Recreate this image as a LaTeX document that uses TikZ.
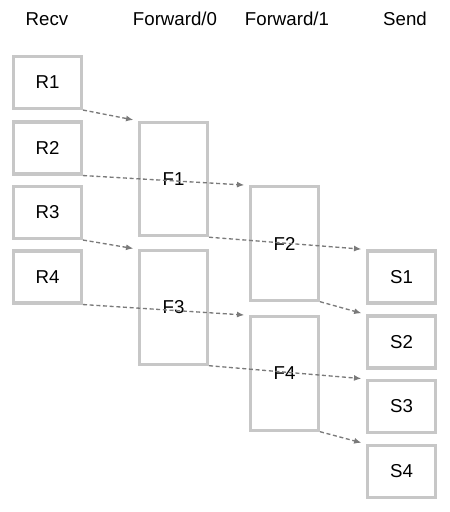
\documentclass[tikz,border=0pt]{standalone}
\usepackage{fontspec}
\setmainfont{Liberation Sans}
\usetikzlibrary{arrows.meta}

\begin{document}
\begin{tikzpicture}[x=0.75pt,y=-0.75pt,
    stage/.style={draw=black!22,line width=2.3pt,minimum width=51pt,minimum height=39pt,inner sep=0pt,font=\fontsize{14}{16}\selectfont},
    tall/.style={stage,minimum height=85pt},
    head/.style={font=\fontsize{14}{16}\selectfont},
    flow/.style={draw=black!52,line width=1pt,dash pattern=on 3pt off 2pt,-{Latex[length=5.5pt,width=4.5pt]},shorten >=3.5pt}]
  \useasboundingbox (0,0) rectangle (450,512);

  %% Headers
  \node[head] (hrecv) at (47,19) {Recv};
  \node[head] (hfw0) at (175,19) {Forward/0};
  \node[head] (hfw1) at (287,19) {Forward/1};
  \node[head] (hsend) at (405,19) {Send};

  %% Stages
  \node[stage] (R1) at (47.5,82.5) {R1};
  \node[stage] (R2) at (47.5,148) {R2};
  \node[stage] (R3) at (47.5,212.5) {R3};
  \node[stage] (R4) at (47.5,277) {R4};
  \node[tall] (F1) at (173.5,179) {F1};
  \node[tall] (F3) at (173.5,307.5) {F3};
  \node[tall] (F2) at (284.5,243.5) {F2};
  \node[tall] (F4) at (284.5,373.5) {F4};
  \node[stage] (S1) at (401.5,277) {S1};
  \node[stage] (S2) at (401.5,342) {S2};
  \node[stage] (S3) at (401.5,406.5) {S3};
  \node[stage] (S4) at (401.5,471.5) {S4};

  %% Flows
  \draw[flow] (R1.south east) -- (F1.north west);
  \draw[flow] (R2.south east) -- (F2.north west);
  \draw[flow] (R3.south east) -- (F3.north west);
  \draw[flow] (R4.south east) -- (F4.north west);
  \draw[flow] (F1.south east) -- (S1.north west);
  \draw[flow] (F2.south east) -- (S2.north west);
  \draw[flow] (F3.south east) -- (S3.north west);
  \draw[flow] (F4.south east) -- (S4.north west);
\end{tikzpicture}
\end{document}
